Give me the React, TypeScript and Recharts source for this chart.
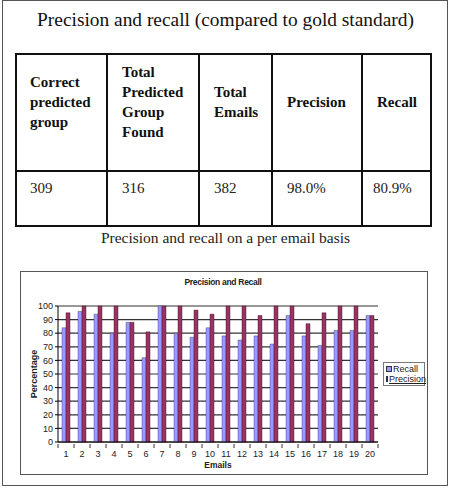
import React from "react";
import { BarChart, Bar, XAxis, YAxis, CartesianGrid } from "recharts";

const tableHeaders = [
  ["Correct", "predicted", "group"],
  ["Total", "Predicted", "Group", "Found"],
  ["Total", "Emails"],
  ["Precision"],
  ["Recall"],
];
const tableValues = ["309", "316", "382", "98.0%", "80.9%"];

const emails = ["1", "2", "3", "4", "5", "6", "7", "8", "9", "10", "11", "12", "13", "14", "15", "16", "17", "18", "19", "20"];
const recall = [84, 96, 94, 80, 88, 62, 100, 80, 77, 84, 78, 75, 78, 72, 93, 78, 71, 82, 82, 93];
const precision = [95, 100, 100, 100, 88, 81, 100, 100, 97, 94, 100, 100, 93, 100, 100, 87, 95, 100, 100, 93];
const yTicks = [0, 10, 20, 30, 40, 50, 60, 70, 80, 90, 100];

const data = emails.map((e, i) => ({ email: e, Recall: recall[i], Precision: precision[i] }));

const colEdges = [15, 107, 199, 272, 362, 432];
const RECALL_COLOR = "#9999FF";
const PRECISION_COLOR = "#993366";
const serif = "'Liberation Serif', 'Times New Roman', serif";
const sans = "'Liberation Sans', Arial, sans-serif";

// category labels with Excel-style tick marks between the categories
function XTick(props: any) {
  const { x, y, payload } = props;
  const off = payload?.offset ?? 0;
  return (
    <g>
      <line x1={x - off} x2={x - off} y1={y - 6} y2={y - 2} stroke="#000" strokeWidth={0.8} />
      {payload.value === "20" && (
        <line x1={x + off} x2={x + off} y1={y - 6} y2={y - 2} stroke="#000" strokeWidth={0.8} />
      )}
      <text x={x} y={y + 7} textAnchor="middle" fontSize={9} fill="#222" fontFamily={sans}>
        {payload.value}
      </text>
    </g>
  );
}

function LegendBox() {
  const items = [
    { name: "Recall", color: RECALL_COLOR },
    { name: "Precision", color: PRECISION_COLOR },
  ];
  return (
    <div style={{ border: "1px solid #777", background: "#fff", padding: "1px 1px 1px 2px", width: 42, boxSizing: "border-box" }}>
      {items.map((it) => (
        <div key={it.name} style={{ display: "flex", alignItems: "center", height: 10, fontSize: 9, fontFamily: sans, color: "#222" }}>
          <span style={{ display: "inline-block", width: 4, height: 4, background: it.color, border: "0.5px solid #333", marginRight: 1 }} />
          <span style={{ textDecoration: it.name === "Precision" ? "underline" : "none", whiteSpace: "nowrap" }}>{it.name}</span>
        </div>
      ))}
    </div>
  );
}

export default function App() {
  return (
    <div style={{ position: "absolute", left: 0, top: 0, width: 451, height: 495, background: "#fff", overflow: "hidden" }}>
      {/* outer frame */}
      <div style={{ position: "absolute", left: 2, top: 0, width: 446, height: 486, border: "1.5px solid #555", boxSizing: "border-box" }} />

      <div style={{ position: "absolute", left: 0, width: 451, top: 7, textAlign: "center", fontFamily: serif, fontSize: 19.4, color: "#111", lineHeight: "26px" }}>
        Precision and recall (compared to gold standard)
      </div>

      {/* table */}
      <div style={{ position: "absolute", left: 15, top: 53, width: 417, height: 174, border: "2px solid #111", boxSizing: "border-box" }} />
      <div style={{ position: "absolute", left: 15, top: 170, width: 417, height: 2, background: "#111" }} />
      {colEdges.slice(1, -1).map((x) => (
        <div key={x} style={{ position: "absolute", left: x - 1, top: 53, width: 2, height: 174, background: "#111" }} />
      ))}
      {tableHeaders.map((lines, i) => (
        <div
          key={"h" + i}
          style={{
            position: "absolute",
            left: colEdges[i] + 15,
            top: 102 - (lines.length * 20) / 2,
            fontFamily: serif,
            fontWeight: 700,
            fontSize: 15,
            lineHeight: "20px",
            color: "#111",
          }}
        >
          {lines.map((l) => (
            <div key={l}>{l}</div>
          ))}
        </div>
      ))}
      {tableValues.map((v, i) => (
        <div
          key={"v" + i}
          style={{ position: "absolute", left: colEdges[i] + (i === 4 ? 11 : 15), top: 179, fontFamily: serif, fontSize: 15, lineHeight: "18px", color: "#222" }}
        >
          {v}
        </div>
      ))}

      <div style={{ position: "absolute", left: 0, width: 451, top: 228, textAlign: "center", fontFamily: serif, fontSize: 15.5, color: "#222", lineHeight: "19px" }}>
        Precision and recall on a per email basis
      </div>

      {/* chart */}
      <div style={{ position: "absolute", left: 20, top: 271, width: 408, height: 204, border: "1px solid #555", boxSizing: "border-box", background: "#fff" }}>
        <div style={{ position: "absolute", left: 0, width: 404, top: 5, textAlign: "center", fontFamily: sans, fontWeight: 700, fontSize: 8.5, letterSpacing: -0.3, color: "#222" }}>
          Precision and Recall
        </div>
        <div style={{ position: "absolute", left: -1, top: -1 }}>
          <BarChart
            width={408}
            height={204}
            data={data}
            margin={{ top: 35, right: 50, left: 8, bottom: 13 }}
            barCategoryGap="25%"
            barGap={0}
          >
            <CartesianGrid vertical={false} stroke="#333" strokeWidth={1.2} fill="#fff" />
            <XAxis
              dataKey="email"
              tickLine={false}
              axisLine={{ stroke: "#000", strokeWidth: 1 }}
              tick={<XTick />}
              interval={0}
              height={20}
              label={{ value: "Emails", position: "insideBottom", offset: -6, fontSize: 8.5, fontWeight: 700, fill: "#222", fontFamily: sans }}
            />
            <YAxis
              domain={[0, 100]}
              ticks={yTicks}
              interval={0}
              width={30}
              tickSize={3}
              tickLine={{ stroke: "#000" }}
              axisLine={{ stroke: "#000", strokeWidth: 1 }}
              tick={{ fontSize: 9, fill: "#222", fontFamily: sans }}
              label={{ value: "Percentage", angle: -90, position: "insideLeft", offset: 6, fontSize: 9, fontWeight: 700, fill: "#222", fontFamily: sans, style: { textAnchor: "middle" } }}
            />
            <YAxis yAxisId="right" orientation="right" width={0} tick={false} tickLine={false} axisLine={{ stroke: "#999" }} domain={[0, 100]} />
            <Bar dataKey="Recall" fill={RECALL_COLOR} stroke="#334" strokeWidth={0.4} isAnimationActive={false} />
            <Bar dataKey="Precision" fill={PRECISION_COLOR} stroke="#301" strokeWidth={0.4} isAnimationActive={false} />
          </BarChart>
        </div>
        <div style={{ position: "absolute", left: 362, top: 90 }}>
          <LegendBox />
        </div>
      </div>
    </div>
  );
}
